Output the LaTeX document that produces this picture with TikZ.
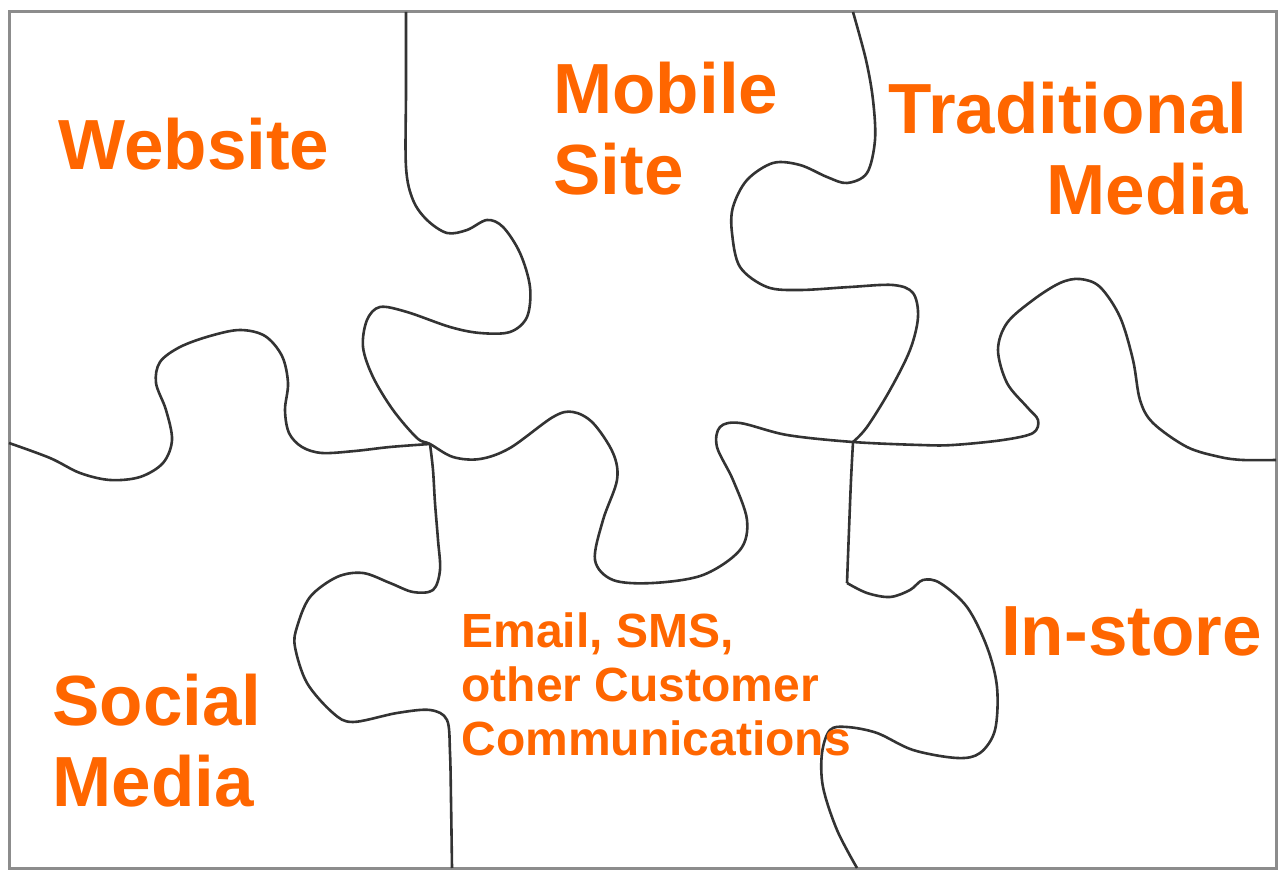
\documentclass[tikz,border=0pt]{standalone}
\usepackage{fontspec}
\setmainfont{Liberation Sans}
\definecolor{puzorange}{HTML}{FF6600}
\tikzset{
  label/.style={text=puzorange,font=\bfseries\fontsize{35.5}{40.5}\selectfont,inner sep=0pt},
  small label/.style={text=puzorange,font=\bfseries\fontsize{24}{27}\selectfont,inner sep=0pt,align=left},
  seam/.style={draw=black!80,line width=1.3pt,line join=round},
}
\begin{document}
\begin{tikzpicture}[x=0.5pt,y=-0.5pt]
      \useasboundingbox (0,0) rectangle (1284,870);
      \draw[black!45,line width=1.5pt] (9,12) rectangle (1276,868);

      \coordinate (jl) at (430,444);
      \coordinate (jr) at (853,442);

      \begin{scope}[every path/.style={seam}]
        \draw plot[smooth,tension=0.55] coordinates {(9,443) (50,458) (80,473) (110,480) (140,477)
          (163,463) (172,440) (166,410) (156,383) (160,362) (180,347) (210,336) (240,330) (265,336)
          (282,356) (288,383) (285,410) (289,433) (302,447) (322,453) (355,451) (390,447) (jl)};
        \draw plot[smooth,tension=0.55] coordinates {(406,12) (406,90) (406,167) (413,200) (427,220)
          (447,233) (467,230) (487,220) (503,227) (520,253) (530,287) (527,317) (510,332) (480,333)
          (450,327) (407,312) (380,307) (367,320) (363,347) (373,377) (393,410) (417,438) (jl)
          (453,457) (480,459) (510,448) (553,417) (573,412) (593,423) (613,453) (617,480) (603,520)
          (595,560) (613,580) (653,583) (703,575) (740,550) (747,520) (733,480) (717,447) (720,427)
          (740,423) (787,435) (jr) (920,445) (953,445) (1003,440) (1033,433) (1038,420) (1027,407)
          (1007,383) (998,350) (1007,323) (1033,300) (1060,283) (1080,279) (1100,287) (1120,317)
          (1133,360) (1140,400) (1153,423) (1187,447) (1220,457) (1243,460) (1276,460)};
        \draw plot[smooth,tension=0.55] coordinates {(853,12) (866,60) (873,100) (875,140) (867,173)
          (847,183) (827,177) (800,165) (773,163) (747,180) (733,207) (732,233) (740,267) (767,287)
          (800,290) (850,287) (893,285) (913,293) (918,317) (910,350) (890,390) (867,427) (jr)};
        \draw plot[smooth,tension=0.55] coordinates {(jr) (851,480) (849,530) (847,583)};
        \draw plot[smooth,tension=0.55] coordinates {(847,583) (867,593) (890,597) (910,590)
          (923,580) (940,583) (967,607) (987,647) (997,687) (995,730) (980,753) (957,758) (913,750)
          (877,733) (847,727) (830,730) (822,753) (823,787) (837,830) (857,868)};
        \draw plot[smooth,tension=0.55] coordinates {(jl) (433,470) (435,503) (438,540) (440,570)
          (433,590) (413,592) (390,583) (363,573) (337,577) (310,597) (297,627) (295,647) (307,683)
          (333,713) (353,722) (397,713) (430,710) (447,720) (450,753) (451,800) (452,868)};
      \end{scope}

      \node[label,anchor=base west] (web) at (58,170) {Website};
      \node[label,anchor=base west,align=left] (mob) at (553,195) {Mobile\\Site};
      \node[label,anchor=base east,align=right] (trad) at (1248,215) {Traditional\\Media};
      \node[label,anchor=base west,align=left] (soc) at (52,806) {Social\\Media};
      \node[label,anchor=base east] (store) at (1262,655) {In-store};
      \node[small label,anchor=base west] (mail) at (461,755) {Email, SMS,\\other Customer\\Communications};

    \end{tikzpicture}
\end{document}
